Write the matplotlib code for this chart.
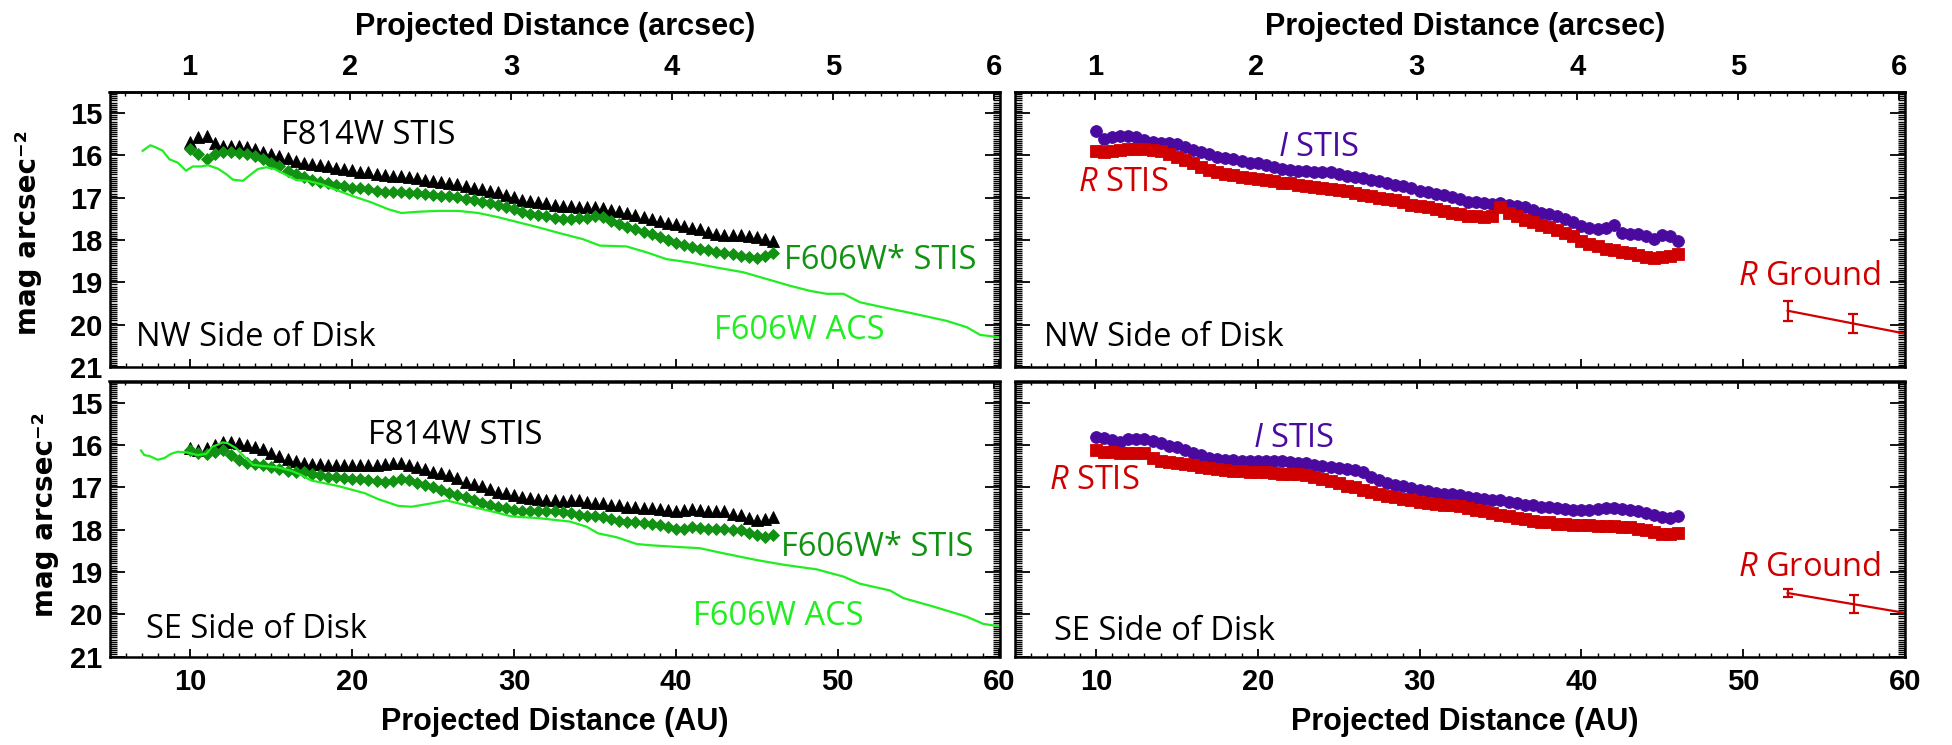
import matplotlib
matplotlib.use("Agg")
import matplotlib.pyplot as plt
from matplotlib.ticker import MultipleLocator

plt.rcParams['font.family'] = ['Liberation Sans', 'DejaVu Sans']
plt.rcParams['font.weight'] = 'bold'
plt.rcParams['mathtext.fontset'] = 'custom'
plt.rcParams['mathtext.rm'] = 'Open Sans:weight=normal'
plt.rcParams['mathtext.it'] = 'Open Sans:style=italic:weight=normal'
plt.rcParams['mathtext.bf'] = 'Open Sans:weight=bold'

# ---------------- data ----------------
au_stis = [10.0, 10.5, 11.0, 11.5, 12.0, 12.5, 13.0, 13.5, 14.0, 14.5, 15.0, 15.5,
           16.0, 16.5, 17.0, 17.5, 18.0, 18.5, 19.0, 19.5, 20.0, 20.5, 21.0, 21.5,
           22.0, 22.5, 23.0, 23.5, 24.0, 24.5, 25.0, 25.5, 26.0, 26.5, 27.0, 27.5,
           28.0, 28.5, 29.0, 29.5, 30.0, 30.5, 31.0, 31.5, 32.0, 32.5, 33.0, 33.5,
           34.0, 34.5, 35.0, 35.5, 36.0, 36.5, 37.0, 37.5, 38.0, 38.5, 39.0, 39.5,
           40.0, 40.5, 41.0, 41.5, 42.0, 42.5, 43.0, 43.5, 44.0, 44.5, 45.0, 45.5, 46.0]

# NW side, left panel
nw_f814w = [15.69, 15.57, 15.54, 15.71, 15.77, 15.77, 15.77, 15.80, 15.85, 15.91, 15.97, 16.01,
            16.06, 16.13, 16.17, 16.20, 16.23, 16.26, 16.29, 16.32, 16.35, 16.38, 16.40, 16.44,
            16.46, 16.48, 16.48, 16.50, 16.53, 16.57, 16.60, 16.62, 16.64, 16.68, 16.72, 16.76,
            16.80, 16.83, 16.87, 16.94, 16.99, 17.05, 17.07, 17.09, 17.13, 17.16, 17.19, 17.20,
            17.21, 17.22, 17.23, 17.25, 17.28, 17.32, 17.36, 17.41, 17.46, 17.50, 17.55, 17.59,
            17.63, 17.67, 17.71, 17.74, 17.80, 17.86, 17.88, 17.89, 17.89, 17.90, 17.93, 17.97, 18.03]
nw_f606w_stis = [15.85, 15.97, 16.09, 15.97, 15.93, 15.93, 15.94, 15.97, 16.02, 16.09, 16.17, 16.26,
                 16.36, 16.44, 16.52, 16.57, 16.62, 16.65, 16.70, 16.73, 16.76, 16.78, 16.80, 16.83,
                 16.86, 16.87, 16.87, 16.89, 16.89, 16.91, 16.94, 16.95, 16.97, 16.99, 17.02, 17.05,
                 17.09, 17.13, 17.17, 17.23, 17.27, 17.33, 17.39, 17.41, 17.44, 17.49, 17.50, 17.50,
                 17.49, 17.47, 17.44, 17.46, 17.54, 17.62, 17.68, 17.74, 17.80, 17.86, 17.92, 17.99,
                 18.06, 18.11, 18.16, 18.20, 18.24, 18.28, 18.31, 18.34, 18.37, 18.41, 18.42, 18.38, 18.30]
nw_acs_au = [7.05, 7.52, 7.87, 8.29, 8.70, 9.22, 9.73, 10.14, 10.66, 11.07, 11.69, 12.21, 12.62,
             13.24, 13.76, 14.17, 14.69, 15.20, 15.82, 16.54, 17.27, 18.09, 19.12, 19.95, 21.19,
             22.22, 23.04, 24.08, 25.31, 26.55, 27.79, 29.03, 30.27, 31.51, 32.95, 34.27, 35.30,
             36.95, 38.19, 39.42, 40.87, 42.52, 44.16, 45.61, 47.05, 48.29, 49.32, 50.35, 51.38,
             52.82, 54.47, 56.74, 57.98, 58.80, 60.04]
nw_acs_mag = [15.89, 15.76, 15.81, 15.89, 16.09, 16.17, 16.36, 16.26, 16.26, 16.23, 16.31, 16.44, 16.57,
              16.60, 16.44, 16.32, 16.28, 16.32, 16.44, 16.58, 16.60, 16.68, 16.83, 16.95, 17.11,
              17.27, 17.36, 17.33, 17.31, 17.31, 17.36, 17.46, 17.58, 17.70, 17.85, 17.98, 18.13,
              18.15, 18.29, 18.45, 18.53, 18.65, 18.76, 18.92, 19.08, 19.20, 19.27, 19.27, 19.47,
              19.59, 19.72, 19.91, 20.06, 20.24, 20.30]

# SE side, left panel
se_f814w = [16.08, 16.12, 16.08, 16.00, 15.94, 15.94, 15.96, 16.00, 16.04, 16.10, 16.18, 16.26,
            16.34, 16.39, 16.43, 16.45, 16.46, 16.47, 16.48, 16.48, 16.48, 16.48, 16.48, 16.48,
            16.46, 16.43, 16.42, 16.47, 16.53, 16.57, 16.63, 16.67, 16.71, 16.79, 16.87, 16.92,
            16.98, 17.05, 17.10, 17.14, 17.18, 17.22, 17.25, 17.28, 17.30, 17.31, 17.32, 17.30,
            17.31, 17.34, 17.36, 17.38, 17.41, 17.43, 17.46, 17.47, 17.50, 17.50, 17.52, 17.54,
            17.55, 17.54, 17.52, 17.54, 17.55, 17.56, 17.57, 17.63, 17.65, 17.73, 17.77, 17.75, 17.71]
se_f606w_stis = [16.12, 16.18, 16.21, 16.16, 16.13, 16.24, 16.35, 16.43, 16.45, 16.47, 16.53, 16.57,
                 16.61, 16.63, 16.65, 16.69, 16.72, 16.75, 16.76, 16.78, 16.80, 16.81, 16.83, 16.84,
                 16.87, 16.84, 16.81, 16.83, 16.89, 16.94, 17.00, 17.06, 17.13, 17.18, 17.24, 17.30,
                 17.36, 17.42, 17.46, 17.50, 17.54, 17.56, 17.56, 17.56, 17.56, 17.57, 17.59, 17.61,
                 17.65, 17.69, 17.69, 17.71, 17.76, 17.79, 17.81, 17.83, 17.85, 17.87, 17.90, 17.93,
                 17.99, 17.98, 17.94, 17.96, 17.98, 17.99, 17.99, 18.01, 18.02, 18.07, 18.13, 18.18, 18.13]
se_acs_au = [6.95, 7.15, 7.46, 7.98, 8.39, 8.80, 9.22, 9.83, 10.45, 10.97, 11.38, 12.00, 12.31,
             12.83, 13.34, 13.86, 14.58, 15.41, 16.23, 16.85, 17.47, 19.12, 20.77, 21.60, 22.84,
             23.66, 24.90, 25.83, 26.97, 28.62, 29.86, 31.51, 32.95, 33.44, 34.47, 35.20, 36.33,
             37.57, 38.39, 39.63, 41.48, 42.93, 44.99, 46.64, 48.70, 50.35, 51.38, 53.24, 54.06,
             55.92, 57.98, 59.01, 60.04]
se_acs_mag = [16.13, 16.24, 16.26, 16.35, 16.31, 16.21, 16.16, 16.18, 16.24, 16.21, 16.04, 15.94, 15.96,
              16.08, 16.28, 16.47, 16.50, 16.53, 16.61, 16.71, 16.84, 16.97, 17.14, 17.28, 17.44,
              17.46, 17.38, 17.31, 17.42, 17.57, 17.69, 17.73, 17.79, 17.81, 17.93, 18.09, 18.18,
              18.34, 18.37, 18.40, 18.44, 18.56, 18.72, 18.83, 18.94, 19.11, 19.28, 19.44, 19.62,
              19.82, 20.06, 20.23, 20.29]

# NW side, right panel
nw_i_stis = [15.42, 15.61, 15.56, 15.54, 15.54, 15.56, 15.64, 15.69, 15.71, 15.70, 15.73, 15.80,
             15.87, 15.92, 15.97, 16.04, 16.07, 16.09, 16.13, 16.17, 16.19, 16.23, 16.27, 16.31,
             16.34, 16.37, 16.37, 16.39, 16.40, 16.40, 16.45, 16.48, 16.51, 16.54, 16.57, 16.61,
             16.65, 16.69, 16.72, 16.78, 16.83, 16.86, 16.90, 16.93, 16.98, 17.02, 17.09, 17.11,
             17.13, 17.15, 17.13, 17.16, 17.19, 17.21, 17.28, 17.35, 17.39, 17.44, 17.50, 17.58,
             17.66, 17.72, 17.74, 17.72, 17.64, 17.84, 17.86, 17.86, 17.91, 17.98, 17.88, 17.91, 18.02]
nw_r_stis = [15.89, 15.91, 15.89, 15.87, 15.85, 15.85, 15.85, 15.86, 15.90, 15.97, 16.03, 16.11,
             16.19, 16.28, 16.35, 16.40, 16.43, 16.46, 16.50, 16.53, 16.56, 16.59, 16.61, 16.64,
             16.66, 16.69, 16.72, 16.74, 16.77, 16.80, 16.82, 16.85, 16.89, 16.93, 16.97, 17.00,
             17.03, 17.06, 17.11, 17.16, 17.19, 17.23, 17.27, 17.31, 17.35, 17.39, 17.43, 17.44,
             17.46, 17.44, 17.22, 17.36, 17.44, 17.52, 17.58, 17.65, 17.70, 17.76, 17.83, 17.91,
             18.02, 18.09, 18.15, 18.20, 18.24, 18.29, 18.31, 18.35, 18.41, 18.43, 18.41, 18.37, 18.33]
nw_ground_au = [52.75, 56.78]
nw_ground_mag = [19.67, 19.97]
nw_ground_err = [0.24, 0.23]
nw_ground_fit_au = [52.75, 60.0]
nw_ground_fit_mag = [19.67, 20.21]

# SE side, right panel
se_i_stis = [15.82, 15.84, 15.88, 15.92, 15.87, 15.85, 15.87, 15.91, 15.96, 16.02, 16.06, 16.12,
             16.18, 16.24, 16.30, 16.33, 16.35, 16.36, 16.37, 16.37, 16.37, 16.38, 16.38, 16.39,
             16.40, 16.42, 16.43, 16.47, 16.50, 16.53, 16.54, 16.56, 16.59, 16.65, 16.75, 16.83,
             16.89, 16.94, 16.98, 17.02, 17.06, 17.09, 17.13, 17.15, 17.17, 17.19, 17.22, 17.25,
             17.27, 17.30, 17.31, 17.35, 17.38, 17.41, 17.43, 17.46, 17.47, 17.50, 17.51, 17.53,
             17.54, 17.54, 17.52, 17.48, 17.50, 17.52, 17.54, 17.55, 17.60, 17.65, 17.71, 17.73, 17.69]
se_r_stis = [16.12, 16.16, 16.17, 16.18, 16.18, 16.18, 16.20, 16.31, 16.37, 16.40, 16.43, 16.46,
             16.48, 16.51, 16.54, 16.57, 16.59, 16.61, 16.62, 16.63, 16.64, 16.65, 16.67, 16.68,
             16.69, 16.69, 16.72, 16.76, 16.81, 16.86, 16.91, 16.96, 17.00, 17.06, 17.12, 17.17,
             17.20, 17.24, 17.28, 17.31, 17.35, 17.37, 17.39, 17.41, 17.43, 17.44, 17.48, 17.54,
             17.57, 17.61, 17.65, 17.69, 17.72, 17.76, 17.79, 17.81, 17.83, 17.86, 17.87, 17.88,
             17.89, 17.90, 17.91, 17.91, 17.92, 17.93, 17.94, 17.98, 18.01, 18.05, 18.10, 18.10, 18.09]
se_ground_au = [52.75, 56.82]
se_ground_mag = [19.50, 19.76]
se_ground_err = [0.09, 0.21]
se_ground_fit_au = [52.75, 60.0]
se_ground_fit_mag = [19.50, 19.97]

AU_PER_ARCSEC = 9.94

# ---------------- style ----------------
BLACK = '#000000'
DKGREEN = '#129212'
LIME = '#20ee20'
PURPLE = '#4a0aa0'
RED = '#d00000'

fig = plt.figure(figsize=(19.52, 7.45), dpi=100)
W, H = 1952.0, 745.0
xl_left, xl_right = 109.5 / W, 1015.0 / W
wid = 890.0 / W
y_top, y_bot = 1 - 367 / H, 1 - 656.5 / H
hgt = 275.0 / H

ax_tl = fig.add_axes([xl_left, y_top, wid, hgt])
ax_tr = fig.add_axes([xl_right, y_top, wid, hgt])
ax_bl = fig.add_axes([xl_left, y_bot, wid, hgt])
ax_br = fig.add_axes([xl_right, y_bot, wid, hgt])


def au2as(x):
    return x / AU_PER_ARCSEC


def as2au(x):
    return x * AU_PER_ARCSEC


def style(ax, left_labels, bottom_labels, top_labels):
    ax.set_xlim(5, 60)
    ax.set_ylim(21, 14.5)
    for s in ax.spines.values():
        s.set_linewidth(1.8)
    ax.xaxis.set_major_locator(MultipleLocator(10))
    ax.xaxis.set_minor_locator(MultipleLocator(1))
    ax.yaxis.set_major_locator(MultipleLocator(1))
    ax.yaxis.set_minor_locator(MultipleLocator(0.05))
    ax.tick_params(axis='x', which='both', direction='in', bottom=True, top=False,
                   labelbottom=bottom_labels, labelsize=21, pad=8)
    ax.tick_params(axis='x', which='major', length=6, width=1.3)
    ax.tick_params(axis='x', which='minor', length=3, width=1.0)
    ax.tick_params(axis='y', which='both', direction='in', left=True, right=True,
                   labelleft=left_labels, labelsize=21, pad=5)
    ax.tick_params(axis='y', which='major', length=11, width=1.3)
    ax.tick_params(axis='y', which='minor', length=5, width=1.0)
    sec = ax.secondary_xaxis('top', functions=(au2as, as2au))
    sec.set_xticks([1, 2, 3, 4, 5, 6])
    sec.xaxis.set_minor_locator(MultipleLocator(0.1))
    sec.tick_params(axis='x', which='both', direction='in', labeltop=top_labels,
                    labelsize=21, pad=8)
    sec.tick_params(axis='x', which='major', length=6, width=1.3)
    sec.tick_params(axis='x', which='minor', length=3, width=1.0)
    sec.spines['top'].set_linewidth(1.8)
    return sec


style(ax_tl, True, False, True)
style(ax_tr, False, False, True)
style(ax_bl, True, True, False)
style(ax_br, False, True, False)

txt_kw = dict(fontfamily='Open Sans', fontweight='normal', fontsize=23.5, va='baseline', ha='left')

# left panels
for ax, f814, f606, acs_x, acs_y in [(ax_tl, nw_f814w, nw_f606w_stis, nw_acs_au, nw_acs_mag),
                                      (ax_bl, se_f814w, se_f606w_stis, se_acs_au, se_acs_mag)]:
    ax.plot(au_stis, f814, ls='none', marker='^', ms=8.5, color=BLACK, mec=BLACK, mew=0.6)
    ax.plot(au_stis, f606, ls='none', marker='D', ms=6.3, color=DKGREEN, mec=DKGREEN, mew=0.6)
    ax.plot(acs_x, acs_y, color=LIME, lw=1.6)

# right panels
for ax, istis, rstis, gx, gy, ge, fx, fy in [
        (ax_tr, nw_i_stis, nw_r_stis, nw_ground_au, nw_ground_mag, nw_ground_err,
         nw_ground_fit_au, nw_ground_fit_mag),
        (ax_br, se_i_stis, se_r_stis, se_ground_au, se_ground_mag, se_ground_err,
         se_ground_fit_au, se_ground_fit_mag)]:
    ax.plot(au_stis, istis, ls='none', marker='o', ms=8.5, color=PURPLE, mec=PURPLE, mew=0.6)
    ax.plot(au_stis, rstis, ls='none', marker='s', ms=8.5, color=RED, mec=RED, mew=0.6)
    ax.plot(fx, fy, color=RED, lw=1.6)
    ax.errorbar(gx, gy, yerr=ge, fmt='none', ecolor=RED, elinewidth=1.6, capsize=3.4, capthick=1.6)

# annotations
ax_tl.text(15.62, 15.73, 'F814W STIS', color=BLACK, **txt_kw)
ax_tl.text(46.7, 18.69, 'F606W* STIS', color=DKGREEN, **txt_kw)
ax_tl.text(42.35, 20.34, 'F606W ACS', color=LIME, **txt_kw)
ax_tl.text(6.64, 20.50, 'NW Side of Disk', color=BLACK, **txt_kw)

ax_bl.text(21.0, 15.98, 'F814W STIS', color=BLACK, **txt_kw)
ax_bl.text(46.5, 18.62, 'F606W* STIS', color=DKGREEN, **txt_kw)
ax_bl.text(41.07, 20.26, 'F606W ACS', color=LIME, **txt_kw)
ax_bl.text(7.26, 20.57, 'SE Side of Disk', color=BLACK, **txt_kw)

ax_tr.text(21.25, 16.01, r'$I$ STIS', color=PURPLE, **txt_kw)
ax_tr.text(8.87, 16.83, r'$R$ STIS', color=RED, **txt_kw)
ax_tr.text(6.80, 20.50, 'NW Side of Disk', color=BLACK, **txt_kw)
ax_tr.text(49.67, 19.07, r'$R$ Ground', color=RED, **txt_kw)

ax_br.text(19.70, 16.06, r'$I$ STIS', color=PURPLE, **txt_kw)
ax_br.text(7.11, 17.05, r'$R$ STIS', color=RED, **txt_kw)
ax_br.text(7.42, 20.61, 'SE Side of Disk', color=BLACK, **txt_kw)
ax_br.text(49.67, 19.10, r'$R$ Ground', color=RED, **txt_kw)

# axis titles
title_kw = dict(fontsize=22, fontweight='bold', ha='center', va='baseline')
fig.text(555 / W, 1 - 730 / H, 'Projected Distance (AU)', **title_kw)
fig.text(1465 / W, 1 - 730 / H, 'Projected Distance (AU)', **title_kw)
fig.text(555 / W, 1 - 35 / H, 'Projected Distance (arcsec)', **title_kw)
fig.text(1465 / W, 1 - 35 / H, 'Projected Distance (arcsec)', **title_kw)

ylab_kw = dict(fontfamily='DejaVu Sans', fontweight='bold', fontsize=20, rotation=90,
               ha='center', va='center')
fig.text(28 / W, 1 - 232.5 / H, 'mag arcsec\u207b\u00b2', **ylab_kw)
fig.text(45 / W, 1 - 515 / H, 'mag arcsec\u207b\u00b2', **ylab_kw)

fig.savefig('out.png', dpi=100)
